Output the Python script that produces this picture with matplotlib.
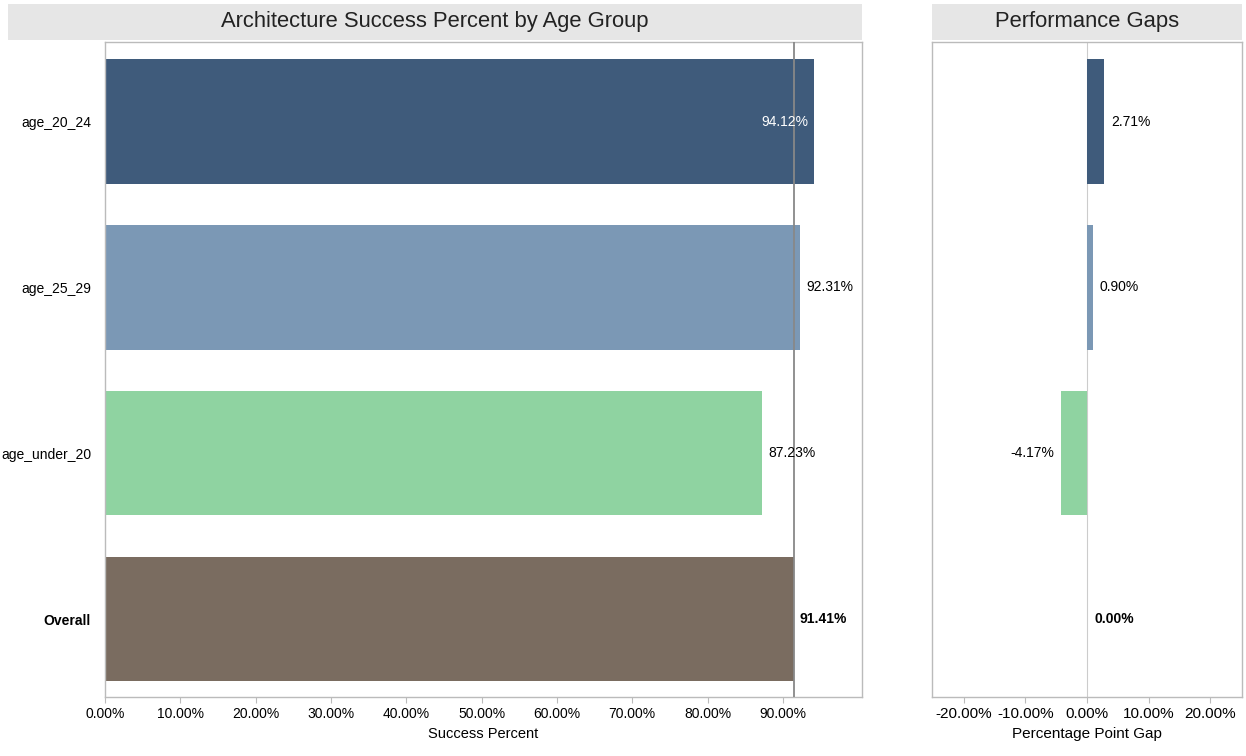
import matplotlib.pyplot as plt
from matplotlib.patches import Rectangle

plt.rcParams['font.family'] = ['Liberation Sans', 'DejaVu Sans']

groups = ['age_20_24', 'age_25_29', 'age_under_20', 'Overall']
success = [94.12, 92.31, 87.23, 91.41]
gaps = [2.71, 0.90, -4.17, 0.00]
colors = ['#3f5b7b', '#7b98b5', '#8fd3a1', '#7a6c60']
ticks_left = [0, 10, 20, 30, 40, 50, 60, 70, 80, 90]
ticks_right = [-20, -10, 0, 10, 20]

W, H = 1246, 756
fig = plt.figure(figsize=(W / 100, H / 100), dpi=100)
fig.patch.set_facecolor('white')


def fig_box(x0, y0, x1, y1):
    # pixel box (top-left origin) -> figure fraction rect
    return [x0 / W, 1 - y1 / H, (x1 - x0) / W, (y1 - y0) / H]


ax1 = fig.add_axes(fig_box(105, 42, 862, 697))
ax2 = fig.add_axes(fig_box(932, 42, 1242, 697))

y = list(range(len(groups)))

# left panel
ax1.barh(y, success, height=0.75, color=colors)
ax1.axvline(success[-1], color='#888888', lw=1.3, zorder=3)
ax1.set_xlim(0, 100.5)
ax1.set_ylim(3.47, -0.48)
ax1.set_xticks(ticks_left)
ax1.set_xticklabels(['%.2f%%' % t for t in ticks_left])
ax1.set_yticks(y)
ax1.set_yticklabels(groups)
ax1.get_yticklabels()[-1].set_fontweight('bold')
ax1.set_xlabel('Success Percent', fontsize=10.5, labelpad=4)
for i, v in enumerate(success):
    label = '%.2f%%' % v
    if i == 0:
        ax1.text(v - 0.8, i, label, ha='right', va='center', color='white', fontsize=10)
    else:
        ax1.text(v + 0.8, i, label, ha='left', va='center', color='black', fontsize=10,
                 fontweight='bold' if groups[i] == 'Overall' else 'normal')

# right panel
ax2.barh(y, gaps, height=0.75, color=colors)
ax2.axvline(0, color='#cccccc', lw=0.8, zorder=0)
ax2.set_xlim(-25.2, 25.2)
ax2.set_ylim(3.47, -0.48)
ax2.set_xticks(ticks_right)
ax2.set_xticklabels(['%.2f%%' % t for t in ticks_right])
ax2.set_yticks([])
ax2.set_xlabel('Percentage Point Gap', fontsize=11, labelpad=4)
for i, g in enumerate(gaps):
    label = '%.2f%%' % g
    weight = 'bold' if groups[i] == 'Overall' else 'normal'
    if g < 0:
        ax2.text(g - 1.2, i, label, ha='right', va='center', fontsize=10, fontweight=weight)
    else:
        ax2.text(g + 1.2, i, label, ha='left', va='center', fontsize=10, fontweight=weight)

for ax in (ax1, ax2):
    for s in ax.spines.values():
        s.set_color('#bbbbbb')
        s.set_linewidth(1.0)
    ax.tick_params(axis='y', labelsize=10, length=0, pad=10)
ax1.tick_params(axis='x', labelsize=10, color='#bbbbbb', length=4)
ax2.tick_params(axis='x', labelsize=11, color='#bbbbbb', length=4)

# header bars
for (x0, x1, title) in [(8, 862, 'Architecture Success Percent by Age Group'),
                        (932, 1242, 'Performance Gaps')]:
    r = Rectangle((x0 / W, 1 - 40 / H), (x1 - x0) / W, 36 / H, transform=fig.transFigure,
                  facecolor='#e6e6e6', edgecolor='none', zorder=0)
    fig.patches.append(r)
    fig.text((x0 + x1) / 2 / W, 1 - 22 / H, title, ha='center', va='center', fontsize=15.8,
             color='#222222')

plt.savefig('out.png', dpi=100)
plt.close()
